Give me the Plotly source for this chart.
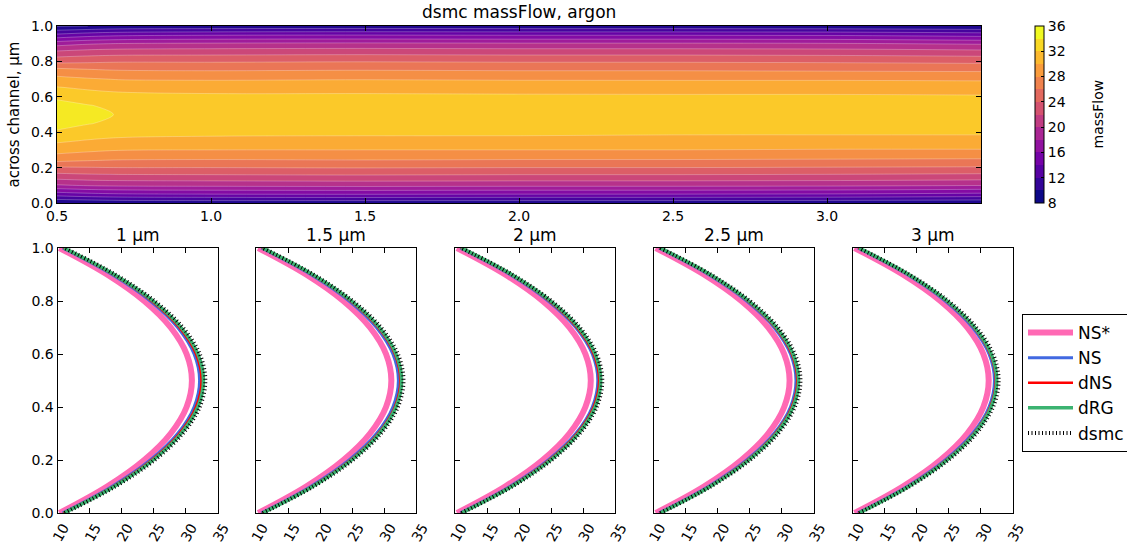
import plotly.graph_objects as go
from plotly.colors import sample_colorscale

W, H = 1127, 547

# ---------------- top contour data ----------------
x_pos = [0.5, 0.6, 0.7, 1.0, 1.5, 2.0, 2.5, 3.0, 3.5]
y_pos = [0.0, 0.05, 0.1, 0.15, 0.2, 0.25, 0.3, 0.35, 0.4, 0.45, 0.5,
         0.55, 0.6, 0.65, 0.7, 0.75, 0.8, 0.85, 0.9, 0.95, 1.0]
mass_flow = [
    [10.0, 10.2, 10.4, 10.5, 10.5, 10.5, 10.5, 10.4, 10.2],
    [15.0, 15.5, 15.8, 16.0, 16.1, 16.0, 16.0, 15.9, 15.5],
    [19.8, 20.2, 20.4, 20.5, 20.6, 20.5, 20.5, 20.4, 20.1],
    [23.0, 23.3, 23.4, 23.5, 23.6, 23.5, 23.5, 23.4, 23.2],
    [25.8, 25.9, 26.0, 26.0, 26.1, 26.0, 26.0, 25.9, 25.8],
    [29.0, 28.6, 28.3, 28.2, 28.3, 28.2, 28.2, 28.1, 28.0],
    [30.8, 30.4, 30.1, 30.0, 30.0, 30.0, 30.0, 29.9, 29.9],
    [32.3, 31.8, 31.5, 31.4, 31.4, 31.4, 31.3, 31.3, 31.3],
    [33.8, 33.2, 32.8, 32.5, 32.4, 32.4, 32.3, 32.3, 32.3],
    [34.6, 34.1, 33.6, 33.0, 32.9, 32.9, 32.9, 32.8, 32.8],
    [35.0, 34.5, 33.9, 33.2, 33.1, 33.1, 33.0, 33.0, 33.0],
    [34.6, 34.1, 33.6, 33.0, 32.9, 32.9, 32.9, 32.8, 32.8],
    [33.7, 33.1, 32.7, 32.4, 32.4, 32.3, 32.3, 32.3, 32.2],
    [32.2, 31.7, 31.4, 31.3, 31.3, 31.3, 31.2, 31.2, 31.2],
    [30.6, 30.2, 29.9, 29.8, 29.9, 29.8, 29.8, 29.8, 29.7],
    [28.7, 28.3, 28.0, 27.9, 28.0, 27.9, 27.9, 27.8, 27.7],
    [25.4, 25.6, 25.8, 25.8, 25.9, 25.8, 25.8, 25.7, 25.5],
    [22.6, 23.0, 23.2, 23.3, 23.4, 23.3, 23.3, 23.2, 22.9],
    [19.2, 19.8, 20.1, 20.3, 20.4, 20.3, 20.3, 20.2, 19.8],
    [14.4, 15.1, 15.5, 15.8, 15.9, 15.8, 15.8, 15.7, 15.2],
    [9.8, 10.0, 10.3, 10.4, 10.5, 10.4, 10.4, 10.3, 10.0],
]
level_start, level_end, level_step = 8, 36, 2
cbar_ticks = [8, 12, 16, 20, 24, 28, 32, 36]
top_xticks = [0.5, 1.0, 1.5, 2.0, 2.5, 3.0]

# ---------------- profile data ----------------
y_prof = [0.0, 0.1, 0.2, 0.3, 0.4, 0.5, 0.6, 0.7, 0.8, 0.9, 1.0]
panel_titles = ["1 µm", "1.5 µm", "2 µm", "2.5 µm", "3 µm"]
ns_star = [
    [10.3, 17.75, 23.55, 27.69, 30.17, 31.0, 30.17, 27.69, 23.55, 17.75, 10.3],
    [10.3, 17.79, 23.61, 27.77, 30.27, 31.1, 30.27, 27.77, 23.61, 17.79, 10.3],
    [10.3, 17.82, 23.68, 27.86, 30.36, 31.2, 30.36, 27.86, 23.68, 17.82, 10.3],
    [10.3, 17.82, 23.68, 27.86, 30.36, 31.2, 30.36, 27.86, 23.68, 17.82, 10.3],
    [10.3, 17.84, 23.71, 27.90, 30.41, 31.25, 30.41, 27.90, 23.71, 17.84, 10.3],
]
ns = [
    [10.8, 18.50, 24.50, 28.78, 31.34, 32.2, 31.34, 28.78, 24.50, 18.50, 10.8],
    [10.8, 18.50, 24.50, 28.78, 31.34, 32.2, 31.34, 28.78, 24.50, 18.50, 10.8],
    [10.8, 18.54, 24.56, 28.86, 31.44, 32.3, 31.44, 28.86, 24.56, 18.54, 10.8],
    [10.8, 18.50, 24.50, 28.78, 31.34, 32.2, 31.34, 28.78, 24.50, 18.50, 10.8],
    [10.8, 18.49, 24.46, 28.73, 31.30, 32.15, 31.30, 28.73, 24.46, 18.49, 10.8],
]
dns = [
    [10.9, 18.68, 24.72, 29.04, 31.64, 32.5, 31.64, 29.04, 24.72, 18.68, 10.9],
    [10.9, 18.68, 24.72, 29.04, 31.64, 32.5, 31.64, 29.04, 24.72, 18.68, 10.9],
    [10.9, 18.68, 24.72, 29.04, 31.64, 32.5, 31.64, 29.04, 24.72, 18.68, 10.9],
    [10.9, 18.64, 24.66, 28.96, 31.54, 32.4, 31.54, 28.96, 24.66, 18.64, 10.9],
    [10.9, 18.62, 24.63, 28.92, 31.49, 32.35, 31.49, 28.92, 24.63, 18.62, 10.9],
]
drg = [
    [11.0, 18.85, 24.95, 29.31, 31.93, 32.8, 31.93, 29.31, 24.95, 18.85, 11.0],
    [11.0, 18.81, 24.89, 29.23, 31.83, 32.7, 31.83, 29.23, 24.89, 18.81, 11.0],
    [11.0, 18.83, 24.92, 29.27, 31.88, 32.75, 31.88, 29.27, 24.92, 18.83, 11.0],
    [11.0, 18.78, 24.82, 29.14, 31.74, 32.6, 31.74, 29.14, 24.82, 18.78, 11.0],
    [11.0, 18.74, 24.76, 29.06, 31.64, 32.5, 31.64, 29.06, 24.76, 18.74, 11.0],
]
dsmc = [
    [11.1, 19.02, 25.18, 29.58, 32.22, 33.1, 32.22, 29.58, 25.18, 19.02, 11.1],
    [11.0, 18.92, 25.08, 29.48, 32.12, 33.0, 32.12, 29.48, 25.08, 18.92, 11.0],
    [11.0, 18.92, 25.08, 29.48, 32.12, 33.0, 32.12, 29.48, 25.08, 18.92, 11.0],
    [11.0, 18.88, 25.02, 29.40, 32.02, 32.9, 32.02, 29.40, 25.02, 18.88, 11.0],
    [11.0, 18.85, 24.95, 29.31, 31.93, 32.8, 31.93, 29.31, 24.95, 18.85, 11.0],
]
prof_xticks = [10, 15, 20, 25, 30, 35]
prof_yticks = [0.0, 0.2, 0.4, 0.6, 0.8, 1.0]

# ---------------- styling helpers ----------------
FONT = "DejaVu Sans"


def px_x(p):
    return p / W


def px_y(p):
    return 1 - p / H


# band colours: 14 bands spread over plasma (matplotlib contourf style)
n_bands = (level_end - level_start) // level_step
band_cols = sample_colorscale("Plasma", [i / (n_bands - 1) for i in range(n_bands)])
# plotly fills the band above level L with colour at value L+step/2;
# colour domain maps v -> (v-6)/30 for these contour settings
cscale = [[0.0, band_cols[0]]]
for i, c in enumerate(band_cols):
    cscale.append([(3 + 2 * i) / 30, c])
cscale.append([1.0, band_cols[-1]])

# stepped colorscale for the colour bar (exact 8..36 range)
step_scale = []
for i, c in enumerate(band_cols):
    step_scale.append([i / n_bands, c])
    step_scale.append([(i + 1) / n_bands, c])

fig = go.Figure()

fig.add_trace(go.Contour(
    x=x_pos, y=y_pos, z=mass_flow,
    colorscale=cscale,
    autocontour=False,
    contours=dict(start=level_start, end=level_end, size=level_step,
                  coloring="fill", showlines=True),
    line=dict(color="rgba(255,255,255,0.45)", width=0.6),
    xaxis="x", yaxis="y",
    showlegend=False, showscale=False,
))

# invisible helper trace that carries the colour bar
fig.add_trace(go.Scatter(
    x=[x_pos[0], x_pos[0]], y=[y_pos[0], y_pos[0]], mode="markers",
    xaxis="x", yaxis="y", showlegend=False, hoverinfo="skip",
    marker=dict(
        size=1, opacity=0, color=[level_start, level_end],
        colorscale=step_scale, cmin=level_start, cmax=level_end, showscale=True,
        colorbar=dict(
            x=px_x(1035), xanchor="left", xpad=0,
            y=px_y(26), yanchor="top", ypad=0,
            len=(203 - 26) / H, lenmode="fraction",
            thickness=9, outlinecolor="black", outlinewidth=1,
            tickvals=cbar_ticks, ticks="inside", ticklen=3, tickcolor="black",
            tickfont=dict(family=FONT, size=14, color="black"),
        ),
    ),
))

series = [
    ("NS*", ns_star, dict(color="#ff69b4", width=6)),
    ("NS", ns, dict(color="#4169e1", width=3)),
    ("dNS", dns, dict(color="#ff0000", width=2.5)),
    ("dRG", drg, dict(color="#3cb371", width=3.5)),
    ("dsmc", dsmc, dict(color="black", width=4, dash="1px,2.5px")),
]

for p in range(5):
    ax = p + 2
    for name, data, style in series:
        fig.add_trace(go.Scatter(
            x=data[p], y=y_prof, mode="lines", name=name,
            line=dict(shape="spline", **style),
            xaxis=f"x{ax}", yaxis=f"y{ax}",
            showlegend=(p == 0), legendgroup=name,
        ))

axis_common = dict(
    showline=True, linecolor="black", linewidth=1, mirror="ticks",
    ticks="inside", ticklen=5, tickcolor="black", showgrid=False, zeroline=False,
    tickfont=dict(family=FONT, size=14, color="black"),
)

layout = dict(
    width=W, height=H, margin=dict(l=0, r=0, t=0, b=0, autoexpand=False),
    paper_bgcolor="white", plot_bgcolor="white",
    font=dict(family=FONT, color="black"),
    xaxis=dict(domain=[px_x(57), px_x(981)], range=[0.5, 3.5],
               tickvals=top_xticks, ticktext=[f"{v:.1f}" for v in top_xticks],
               anchor="y", **axis_common),
    yaxis=dict(domain=[px_y(203), px_y(26)], range=[0, 1],
               tickvals=prof_yticks, ticktext=[f"{v:.1f}" for v in prof_yticks],
               anchor="x", **axis_common),
    legend=dict(x=px_x(1022), xanchor="left", y=px_y(314), yanchor="top",
                bordercolor="black", borderwidth=1, bgcolor="white",
                font=dict(family=FONT, size=17, color="black"),
                tracegroupgap=0, itemwidth=45,
                entrywidth=120, entrywidthmode="pixels"),
    showlegend=True,
)

annotations = [
    dict(text="dsmc massFlow, argon", x=px_x(519), y=px_y(12), xref="paper", yref="paper",
         showarrow=False, font=dict(family=FONT, size=17, color="black"),
         xanchor="center", yanchor="middle"),
    dict(text="across channel, µm", x=px_x(13), y=px_y(114.5), xref="paper", yref="paper",
         showarrow=False, textangle=-90, font=dict(family=FONT, size=15, color="black"),
         xanchor="center", yanchor="middle"),
    dict(text="massFlow", x=px_x(1097), y=px_y(114.5), xref="paper", yref="paper",
         showarrow=False, textangle=-90, font=dict(family=FONT, size=14, color="black"),
         xanchor="center", yanchor="middle"),
]

for p in range(5):
    ax = p + 2
    left = 57.5 + 198.8 * p
    right = left + 160
    layout[f"xaxis{ax}"] = dict(
        domain=[px_x(left), px_x(right)], range=[10, 35], tickvals=prof_xticks,
        tickangle=-60, anchor=f"y{ax}", ticklabelshift=6, **axis_common)
    layout[f"yaxis{ax}"] = dict(
        domain=[px_y(513), px_y(248)], range=[0, 1], tickvals=prof_yticks,
        ticktext=[f"{v:.1f}" for v in prof_yticks], showticklabels=(p == 0),
        anchor=f"x{ax}", **axis_common)
    annotations.append(dict(
        text=panel_titles[p], x=px_x((left + right) / 2), y=px_y(235),
        xref="paper", yref="paper", showarrow=False,
        font=dict(family=FONT, size=17, color="black"),
        xanchor="center", yanchor="middle"))

layout["annotations"] = annotations
fig.update_layout(**layout)

fig.write_html("out.html")
